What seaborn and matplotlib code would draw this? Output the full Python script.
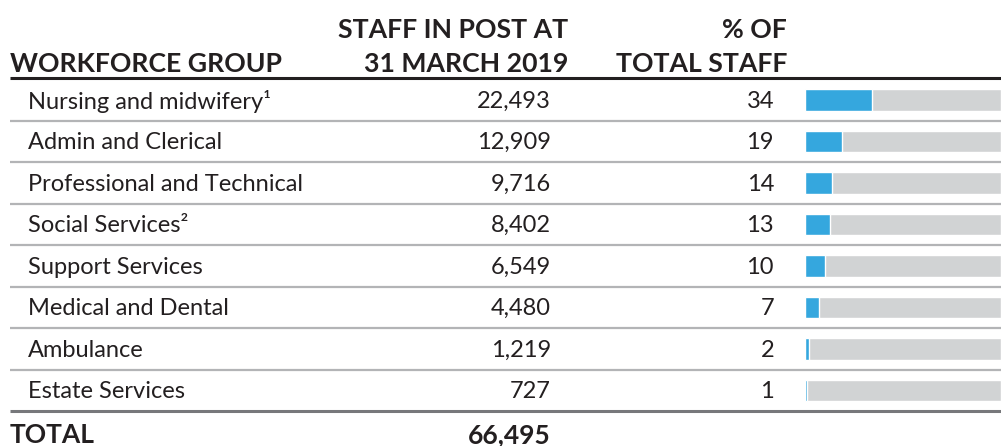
import matplotlib
matplotlib.use('Agg')
import matplotlib.pyplot as plt
import seaborn as sns
import pandas as pd

sns.set_theme(style='white')
plt.rcParams['font.family'] = ['Lato', 'DejaVu Sans']

# data
groups = ['Nursing and midwifery\u00b9', 'Admin and Clerical', 'Professional and Technical',
          'Social Services\u00b2', 'Support Services', 'Medical and Dental',
          'Ambulance', 'Estate Services']
staff = [22493, 12909, 9716, 8402, 6549, 4480, 1219, 727]
pct = [34, 19, 14, 13, 10, 7, 2, 1]
total_staff = 66495
headers = ['WORKFORCE GROUP', 'STAFF IN POST AT\n31 MARCH 2019', '% OF\nTOTAL STAFF']

df = pd.DataFrame({'group': groups, 'staff': staff, 'pct': pct, 'full': 100})

INK = '#231f20'
BLUE = '#35a7de'
GREY = '#d1d3d4'

W, H = 1001, 446
fig = plt.figure(figsize=(W / 100, H / 100), dpi=100)

# row units: row i centred at pixel 100 + 41.5*i
row_h = 41.5
y0 = 100
ylim = ((H - y0) / row_h, -y0 / row_h)

ax = fig.add_axes([0, 0, 1, 1])
ax.set_xlim(0, W)
ax.set_ylim(*ylim)
ax.axis('off')

def px(y):
    return (y - y0) / row_h

# header
ax.text(10, px(72), headers[0], ha='left', va='baseline', fontsize=19.2,
        fontweight='bold', color=INK)
for col_x, head in [(568, headers[1]), (787, headers[2])]:
    for k, line in enumerate(head.split('\n')):
        ax.text(col_x, px(38 + 34 * k), line, ha='right', va='baseline',
                fontsize=19.2, fontweight='bold', color=INK)

# rows
n = len(df)
for i, r in df.iterrows():
    ax.text(28, i + 0.03, r['group'], ha='left', va='center', fontsize=17, color=INK)
    ax.text(551, i + 0.03, f"{r['staff']:,}", ha='right', va='center', fontsize=17, color=INK)
    ax.text(774, i + 0.03, f"{r['pct']}", ha='right', va='center', fontsize=17, color=INK)

# total
ax.text(10, n + 0.07, 'TOTAL', ha='left', va='center', fontsize=19, fontweight='bold', color=INK)
ax.text(551, n + 0.07, f"{total_staff:,}", ha='right', va='center', fontsize=19,
        fontweight='bold', color=INK)

# rules
ax.hlines(-0.52, 10, W, color=INK, lw=2.2)
ax.hlines([i + 0.5 for i in range(n - 1)], 10, W, color='#b3b4b6', lw=1.6)
ax.hlines(n - 0.5, 10, W, color='#77787b', lw=2.2)

# bars
bax = fig.add_axes([805 / W, 0, (W - 805) / W, 1])
sns.barplot(data=df, x='full', y='group', orient='h', color=GREY, width=0.53,
            saturation=1, ax=bax)
sns.barplot(data=df, x='pct', y='group', orient='h', color=BLUE, width=0.53,
            saturation=1, ax=bax)
bax.set_xlim(0, 100)
bax.set_ylim(*ylim)
bax.axis('off')
bax.patch.set_alpha(0)

fig.savefig('out.png', dpi=100)
